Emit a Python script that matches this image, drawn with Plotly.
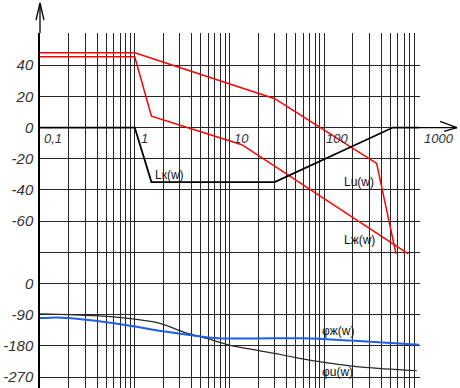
import plotly.graph_objects as go
import math

# ---- data ----
freq_lk = [0.1, 1, 1.5, 30, 530, 1000]
lk_db = [0, 0, -35, -35, 0, 0]

freq_lu = [0.1, 1, 30, 357, 572]
lu_db = [48, 48, 18.5, -23, -81]

freq_lzh = [0.1, 1, 1.5, 13.5, 770]
lzh_db = [45.4, 45.4, 7.3, -11, -81]

freq_phi_u = [0.1, 0.2, 0.5, 1, 1.85, 3.4, 6, 10, 30, 55, 100, 187, 400, 950]
phi_u_deg = [-88, -90, -95, -103, -115, -142, -160, -178, -202, -216, -228, -238, -246, -252]

freq_phi_zh = [0.1, 0.15, 0.2, 0.5, 1, 2, 5, 7.5, 10, 30, 55, 100, 190, 1000]
phi_zh_deg = [-100, -98, -100, -112, -124, -138, -153, -158, -159, -158, -158, -160, -165, -177]

db_ticks = [60, 40, 20, 0, -20, -40, -60, -80]
db_labels = ["", "40", "20", "0", "-20", "-40", "-60", ""]
phase_ticks = [0, -90, -180, -270]
phase_labels = ["0", "-90", "-180", "-270"]

x_labels = ["0,1", "1", "10", "100", "1000"]
x_label_pos = [0.1, 1, 10, 100, 1000]

# phase is drawn on the same vertical scale: 0 deg -> -100, 90 deg per 20 units
PH0, PHS = -100, 20 / 90


def ph(v):
    return PH0 + v * PHS


grid_freqs = [d * 10 ** k for k in range(-1, 3) for d in range(1, 10)] + [1000]

FONT = "Liberation Sans Narrow, Arial Narrow, Liberation Sans, Arial, sans-serif"

fig = go.Figure()
fig.add_trace(go.Scatter(x=freq_lu, y=lu_db, mode="lines",
                         line=dict(color="#ff0000", width=1.5), name="Lu"))
fig.add_trace(go.Scatter(x=freq_lzh, y=lzh_db, mode="lines",
                         line=dict(color="#ff0000", width=1.5), name="Lzh"))
fig.add_trace(go.Scatter(x=freq_lk, y=lk_db, mode="lines",
                         line=dict(color="#000000", width=1.8), name="Lk"))
fig.add_trace(go.Scatter(x=freq_phi_u, y=[ph(v) for v in phi_u_deg], mode="lines",
                         line=dict(color="#2a2a2a", width=1.2, shape="spline", smoothing=0.7),
                         name="phi_u"))
fig.add_trace(go.Scatter(x=freq_phi_zh, y=[ph(v) for v in phi_zh_deg], mode="lines",
                         line=dict(color="#1f5fe8", width=2, shape="spline", smoothing=0.7),
                         name="phi_zh"))

W, H = 460, 388
L, T = 40, 33
PW = 380
PH = H - T
pxu = 343 / 220.0  # px per vertical unit
y_top = 60 + 1 / pxu
y_bot = -160 - 11 / pxu
x_top = 3 + 1 / 94.75

fig.update_layout(
    width=W, height=H,
    margin=dict(l=L, r=W - L - PW, t=T, b=0, pad=0, autoexpand=False),
    paper_bgcolor="white", plot_bgcolor="white",
    showlegend=False,
    xaxis=dict(type="log", range=[-1, x_top], tickvals=grid_freqs, automargin=False,
               showticklabels=False, ticks="", showgrid=True,
               gridcolor="#262626", gridwidth=1, zeroline=False, showline=False),
    yaxis=dict(range=[y_bot, y_top], automargin=False,
               tickvals=db_ticks + [ph(v) for v in phase_ticks],
               ticktext=db_labels + phase_labels,
               ticks="", ticklabelstandoff=2,
               tickfont=dict(family=FONT, size=15, color="#333333", style="italic"),
               showgrid=True, gridcolor="#262626", gridwidth=1,
               zeroline=False, showline=True, linecolor="#000000", linewidth=1.5),
)

# x labels along the 0 dB line
shifts = [2, 4, 2, 0, 3]
for lab, xv, s in zip(x_labels, x_label_pos, shifts):
    fig.add_annotation(x=math.log10(xv), y=0, text=lab, showarrow=False,
                       xanchor="left", yanchor="top", xshift=s, yshift=-1,
                       font=dict(family=FONT, size=13, color="#333333", style="italic"))

# curve labels
curve_labels = [("L\u043a(w)", 2.34, -30.4), ("Lu(w)", 234, -34.9), ("L\u0436(w)", 234, -72.1),
                ("\u03c6\u0436(w)", 141, -130.5), ("\u03c6u(w)", 138, -156.6)]
for txt, fx, yv in curve_labels:
    fig.add_annotation(x=math.log10(fx), y=yv, text=txt, showarrow=False,
                       xanchor="center", yanchor="middle",
                       font=dict(family="Liberation Sans, Arial, sans-serif", size=12, color="#111111"))

# axis extensions with arrows
ax_line = dict(color="#000000", width=1.3)
fig.add_shape(type="line", xref="paper", yref="paper", x0=0, x1=0, y0=1, y1=1 + 30 / PH, line=ax_line)
fig.add_shape(type="line", xref="paper", yref="paper", x0=-4 / PW, x1=0,
              y0=1 + 13 / PH, y1=1 + 30 / PH, line=ax_line)
fig.add_shape(type="line", xref="paper", yref="paper", x0=4 / PW, x1=0,
              y0=1 + 13 / PH, y1=1 + 30 / PH, line=ax_line)
fig.add_shape(type="line", xref="paper", yref="y", x0=379 / PW, x1=417 / PW, y0=0, y1=0, line=ax_line)
fig.add_shape(type="line", xref="paper", yref="y", x0=400 / PW, x1=417 / PW, y0=4, y1=0, line=ax_line)
fig.add_shape(type="line", xref="paper", yref="y", x0=404 / PW, x1=417 / PW, y0=-2.5, y1=0, line=ax_line)

fig.write_html("out.html", config={"displayModeBar": False},
               post_script="document.body.style.margin='0';document.body.style.overflow='hidden';")
